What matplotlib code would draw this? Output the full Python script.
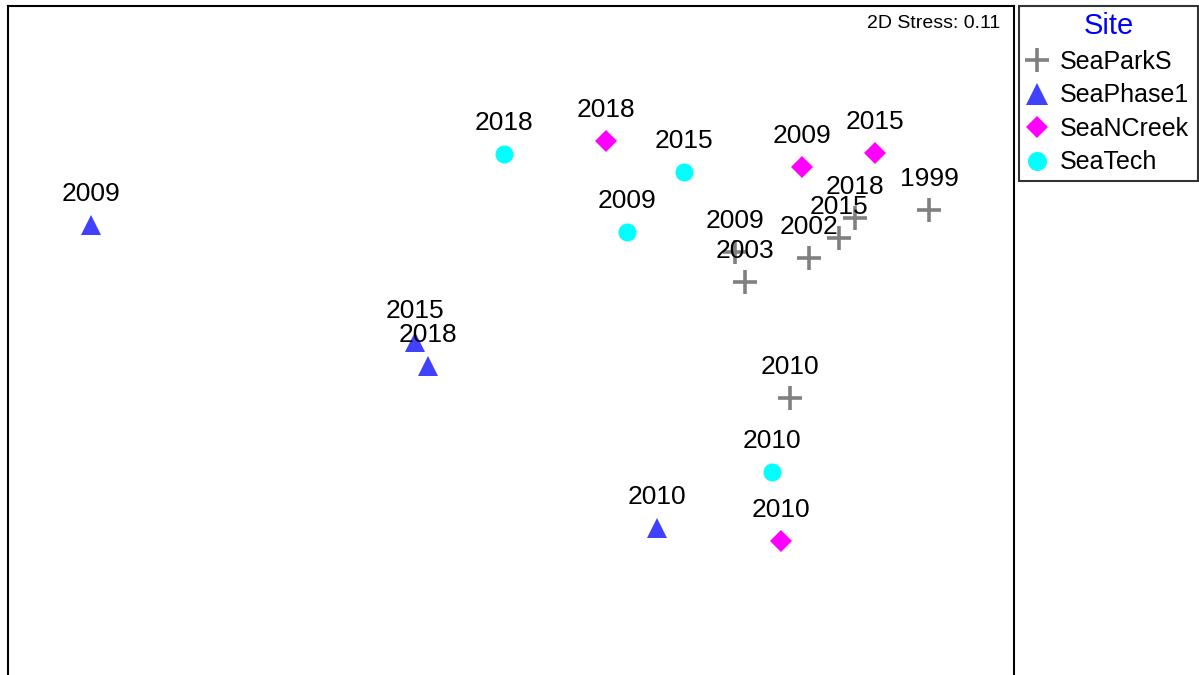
import numpy as np
import matplotlib.pyplot as plt
from matplotlib.lines import Line2D

plt.rcParams['font.family'] = ['Liberation Sans', 'DejaVu Sans']

# --- NMDS ordination scores (arbitrary units) ---
sites = ['SeaParkS', 'SeaPhase1', 'SeaNCreek', 'SeaTech']

parks_years = ['1999', '2018', '2015', '2002', '2009', '2003', '2010']
parks_x = [929, 855, 839, 809, 735, 745, 790]
parks_y = [210, 218, 238, 258, 252, 282, 398]

phase_years = ['2009', '2015', '2018', '2010']
phase_x = [91, 415, 428, 657]
phase_y = [225, 342, 366, 528]

ncreek_years = ['2018', '2009', '2015', '2010']
ncreek_x = [606, 802, 875, 781]
ncreek_y = [141, 167, 153, 541]

tech_years = ['2018', '2015', '2009', '2010']
tech_x = [504, 684, 627, 772]
tech_y = [154, 172, 232, 472]

stress = 0.11

# --- styles ---
styles = {
    'SeaParkS': dict(marker='+', color='#808080', ms=17, mew=2.6),
    'SeaPhase1': dict(marker='^', color='#4040FF', ms=15, mew=0),
    'SeaNCreek': dict(marker='D', color='#FF00FF', ms=11, mew=0),
    'SeaTech': dict(marker='o', color='#00FFFF', ms=13, mew=0),
}
data = {
    'SeaParkS': (parks_x, parks_y, parks_years),
    'SeaPhase1': (phase_x, phase_y, phase_years),
    'SeaNCreek': (ncreek_x, ncreek_y, ncreek_years),
    'SeaTech': (tech_x, tech_y, tech_years),
}

W, H = 1199, 675
fig = plt.figure(figsize=(W / 100, H / 100), dpi=100)
ax_bottom_px = 740  # frame runs past the bottom of the image
ax = fig.add_axes([8 / W, (H - ax_bottom_px) / H, (1014 - 8) / W, (ax_bottom_px - 6) / H])
ax.set_xlim(8, 1014)
ax.set_ylim(ax_bottom_px, 6)
ax.set_xticks([])
ax.set_yticks([])
for sp in ax.spines.values():
    sp.set_linewidth(1.5)

for site in sites:
    xs, ys, yrs = data[site]
    st = styles[site]
    ax.plot(xs, ys, linestyle='none', marker=st['marker'], color=st['color'],
            markersize=st['ms'], markeredgewidth=st['mew'], clip_on=False)
    for x, y, yr in zip(xs, ys, yrs):
        ax.annotate(yr, (x, y), xytext=(0, 22.5), textcoords='offset points',
                    ha='center', va='center', fontsize=19, color='black')

ax.text(0.986, 0.988, f"2D Stress: {stress:.2f}", transform=ax.transAxes,
        ha='right', va='top', fontsize=14)

# --- legend ---
handles = []
for site in sites:
    st = styles[site]
    handles.append(Line2D([], [], linestyle='none', marker=st['marker'], color=st['color'],
                          markersize=st['ms'] * 1.05, markeredgewidth=st['mew']))
leg = fig.legend(handles, sites, loc='upper left',
                 bbox_to_anchor=(1019 / W, 1 - 6 / H, (1198 - 1019) / W, 0.0),
                 mode='expand', title='Site',
                 fontsize=18, title_fontsize=21, frameon=True, fancybox=False,
                 edgecolor='black', handlelength=0.9, handletextpad=0.5,
                 labelspacing=0.38, borderpad=0.25, borderaxespad=0)
leg.get_title().set_color('blue')
leg.get_frame().set_linewidth(1.5)

fig.savefig('out.png', dpi=100)
